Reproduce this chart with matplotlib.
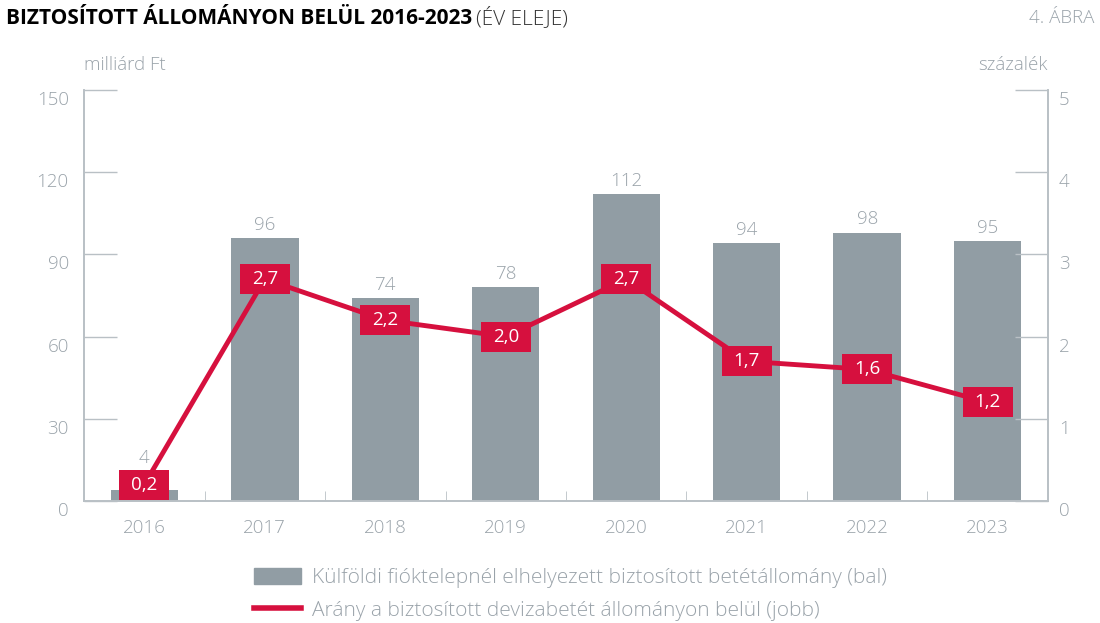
import numpy as np
import matplotlib.pyplot as plt
from matplotlib.patches import Patch
from matplotlib.lines import Line2D
from matplotlib.transforms import ScaledTranslation

plt.rcParams['font.family'] = ['Open Sans', 'DejaVu Sans']

years = ['2016', '2017', '2018', '2019', '2020', '2021', '2022', '2023']
deposits = [4, 96, 74, 78, 112, 94, 98, 95]
share = [0.2, 2.7, 2.2, 2.0, 2.7, 1.7, 1.6, 1.2]
left_ticks = [0, 30, 60, 90, 120, 150]
right_ticks = [0, 1, 2, 3, 4, 5]

grey = '#919da4'
txt = '#9aa3aa'
red = '#d6103e'
spine = '#b9c0c5'
fs = 13.5

fig = plt.figure(figsize=(11, 6.23), dpi=100)
ax = fig.add_axes([0.0764, 0.1958, 0.8763, 0.6597])
ax2 = ax.twinx()

x = np.arange(len(years))
ax.bar(x, deposits, width=0.56, color=grey, zorder=2)
for xi, v, s in zip(x, deposits, share):
    # keep the value above the red box of the line
    y = max(v + 1.5, s * 30 + 6.5)
    ax.text(xi, y, str(v), ha='center', va='bottom', color=txt, fontsize=fs,
            fontweight='light')

ax.set_xlim(-0.5, len(years) - 0.5)
ax.set_ylim(0, 150)
ax.set_yticks(left_ticks)
ax.set_xticks(x)
ax.set_xticklabels(years, fontweight='light')
ax.tick_params(axis='x', length=0, pad=13, labelsize=fs, labelcolor=txt)
ax.tick_params(axis='y', direction='in', length=24, width=1, color=spine,
               labelsize=fs, labelcolor=txt, pad=11)
ax.set_xticks(np.arange(len(years) + 1) - 0.5, minor=True)
ax.tick_params(axis='x', which='minor', direction='in', length=7, color=spine)

ax2.set_ylim(0, 5)
ax2.set_yticks(right_ticks)
ax2.tick_params(axis='y', direction='in', length=24, width=1, color=spine,
                labelsize=fs, labelcolor=txt, pad=8)

# y labels sit a bit below their ticks
shift = ScaledTranslation(0, -8 / 100, fig.dpi_scale_trans)
for lab in ax.get_yticklabels() + ax2.get_yticklabels():
    lab.set_transform(lab.get_transform() + shift)
    lab.set_fontweight('light')

for a in (ax, ax2):
    a.spines['top'].set_visible(False)
    for s in ('left', 'right', 'bottom'):
        a.spines[s].set_color(spine)
        a.spines[s].set_linewidth(1.2)

box = [(-49, -29), (49, -29), (49, 29), (-49, 29), (-49, -29)]
ax2.plot(x, share, color=red, lw=3.5, zorder=3)
ax2.plot(x, share, ls='none', marker=box, markersize=35.5, color=red,
         markeredgewidth=0, zorder=4)
for xi, v in zip(x, share):
    ax2.text(xi, v, f'{v:.1f}'.replace('.', ','), ha='center', va='center',
             color='white', fontsize=fs, zorder=5)

fig.text(0.0764, 0.896, 'milliárd Ft', color=txt, fontsize=fs, ha='left',
         va='center', fontweight='light')
fig.text(0.952, 0.896, 'százalék', color=txt, fontsize=fs, ha='right',
         va='center', fontweight='light')

t1 = fig.text(0.005, 0.971, 'BIZTOSÍTOTT ÁLLOMÁNYON BELÜL 2016-2023', fontsize=15,
              fontweight='bold', color='black', va='center')
fig.canvas.draw()
bb = t1.get_window_extent()
fig.text(bb.x1 / fig.bbox.width + 0.004, 0.971, '(ÉV ELEJE)', fontsize=15,
         color='#333333', va='center', fontweight='light')
fig.text(0.995, 0.971, '4. ÁBRA', fontsize=fs, color=txt, ha='right', va='center',
         fontweight='light')

handles = [Patch(color=grey),
           Line2D([0], [0], color=red, lw=4)]
labels = ['Külföldi fióktelepnél elhelyezett biztosított betétállomány (bal)',
          'Arány a biztosított devizabetét állományon belül (jobb)']
leg = fig.legend(handles, labels, loc='upper left', bbox_to_anchor=(0.214, 0.119),
                 frameon=False, handlelength=2.25, handleheight=0.8,
                 labelspacing=0.6, handletextpad=0.55,
                 prop={'size': 15, 'weight': 'light'})
for t in leg.get_texts():
    t.set_color(txt)

fig.savefig('out.png', dpi=100)
